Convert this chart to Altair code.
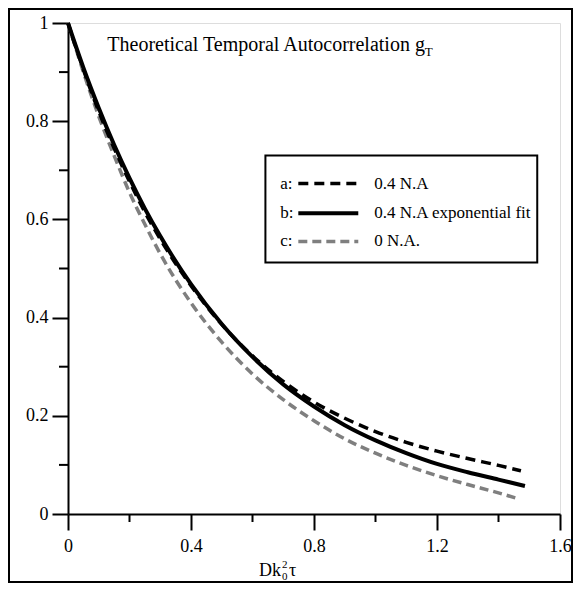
import altair as alt
import pandas as pd

FONT = "Liberation Serif"

# ---- data ----
x_a = [0, 0.05, 0.1, 0.15, 0.2, 0.25, 0.3, 0.4, 0.5, 0.6, 0.7, 0.8, 0.9, 1.0, 1.1, 1.2, 1.3, 1.4, 1.473]
y_a = [1, 0.905, 0.82, 0.745, 0.677, 0.615, 0.56, 0.465, 0.386, 0.322, 0.27, 0.228, 0.195, 0.168, 0.146, 0.128, 0.113, 0.099, 0.088]
x_b = [0, 0.05, 0.1, 0.15, 0.2, 0.25, 0.3, 0.4, 0.5, 0.6, 0.7, 0.8, 0.9, 1.0, 1.1, 1.2, 1.3, 1.4, 1.486]
y_b = [1, 0.909, 0.827, 0.752, 0.684, 0.622, 0.566, 0.468, 0.387, 0.320, 0.264, 0.219, 0.181, 0.150, 0.124, 0.102, 0.085, 0.070, 0.057]
x_c = [0, 0.05, 0.1, 0.15, 0.2, 0.25, 0.3, 0.4, 0.5, 0.6, 0.7, 0.8, 0.9, 1.0, 1.1, 1.2, 1.3, 1.4, 1.464]
y_c = [1, 0.90, 0.81, 0.73, 0.655, 0.59, 0.53, 0.43, 0.35, 0.285, 0.233, 0.19, 0.153, 0.124, 0.099, 0.078, 0.060, 0.043, 0.031]

x_major = [0, 0.4, 0.8, 1.2, 1.6]
x_minor = [0.2, 0.6, 1.0, 1.4]
y_major = [0, 0.2, 0.4, 0.6, 0.8, 1]
y_minor = [0.1, 0.3, 0.5, 0.7, 0.9]

legend_keys = ["a:", "b:", "c:"]
legend_labels = ["0.4 N.A", "0.4 N.A exponential fit", "0 N.A."]
legend_rows_y = [0.673, 0.6125, 0.555]

title_text = "Theoretical Temporal Autocorrelation g"
title_sub = "T"

W, H = 492, 491

x_scale = alt.Scale(domain=[0, 1.6], nice=False, zero=False)
y_scale = alt.Scale(domain=[0, 1], nice=False, zero=False)

axis_common = dict(
    format="~g", tickWidth=2, tickColor="black", domainWidth=2, domainColor="black",
    labelFont=FONT, labelFontSize=18, labelColor="black", grid=False, title=None,
    labelFlush=False, labelOverlap=False, tickSize=16,
)
x_axis = alt.Axis(values=x_major, labelPadding=7, **axis_common)
y_axis = alt.Axis(values=y_major, labelPadding=4, **axis_common)


def X(field):
    return alt.X(f"{field}:Q", scale=x_scale, axis=x_axis)


def Y(field):
    return alt.Y(f"{field}:Q", scale=y_scale, axis=y_axis)


df_a = pd.DataFrame({"x": x_a, "y": y_a})
df_b = pd.DataFrame({"x": x_b, "y": y_b})
df_c = pd.DataFrame({"x": x_c, "y": y_c})

line_c = alt.Chart(df_c).mark_line(color="#7f7f7f", strokeWidth=3.5, strokeDash=[9, 5],
                                   interpolate="monotone").encode(x=X("x"), y=Y("y"))
line_a = alt.Chart(df_a).mark_line(color="black", strokeWidth=3.5, strokeDash=[10, 6],
                                   interpolate="monotone").encode(x=X("x"), y=Y("y"))
line_b = alt.Chart(df_b).mark_line(color="black", strokeWidth=4,
                                   interpolate="monotone").encode(x=X("x"), y=Y("y"))

# minor ticks
xminor = alt.Chart(pd.DataFrame({"v": x_minor})).mark_rule(color="black", strokeWidth=2).encode(
    x=X("v"), y=alt.value(H), y2=alt.value(H + 8))
yminor = alt.Chart(pd.DataFrame({"v": y_minor})).mark_rule(color="black", strokeWidth=2).encode(
    y=Y("v"), x=alt.value(0), x2=alt.value(-9))

# title inside plot
title_df = pd.DataFrame({"x": [0.128], "y": [0.955], "t": [title_text]})
title = alt.Chart(title_df).mark_text(font=FONT, fontSize=20, align="left", baseline="middle",
                                      color="black").encode(x=X("x"), y=Y("y"), text="t:N")
title_s = alt.Chart(pd.DataFrame({"x": [1.16], "y": [0.955], "t": [title_sub]})).mark_text(
    font=FONT, fontSize=13, align="left", baseline="middle", dy=7, color="black").encode(
    x=X("x"), y=Y("y"), text="t:N")

# legend box
box = alt.Chart(pd.DataFrame({"x": [0.642], "x2": [1.526], "y": [0.730], "y2": [0.512]})).mark_rect(
    fill="white", stroke="black", strokeWidth=2).encode(x=X("x"), x2="x2:Q", y=Y("y"), y2="y2:Q")

keys = alt.Chart(pd.DataFrame({"x": [0.690] * 3, "y": legend_rows_y, "t": legend_keys})).mark_text(
    font=FONT, fontSize=17, align="left", baseline="middle", color="black").encode(
    x=X("x"), y=Y("y"), text="t:N")
labels = alt.Chart(pd.DataFrame({"x": [0.996] * 3, "y": legend_rows_y, "t": legend_labels})).mark_text(
    font=FONT, fontSize=17, align="left", baseline="middle", color="black").encode(
    x=X("x"), y=Y("y"), text="t:N")

def sample(i, color, dash, width):
    d = pd.DataFrame({"x": [0.749], "x2": [0.944], "y": [legend_rows_y[i]]})
    kw = dict(color=color, strokeWidth=width)
    if dash:
        kw["strokeDash"] = dash
    return alt.Chart(d).mark_rule(**kw).encode(x=X("x"), x2="x2:Q", y=Y("y"))

s_a = sample(0, "black", [10, 6], 3.5)
s_b = sample(1, "black", None, 4)
s_c = sample(2, "#7f7f7f", [9, 5], 3.5)

# x axis title Dk0^2 tau
one = pd.DataFrame({"k": [0]})
xt1 = alt.Chart(one).mark_text(text="Dk", font=FONT, fontSize=18, align="right", baseline="alphabetic",
                               color="black").encode(x=alt.value(213), y=alt.value(553))
xt2 = alt.Chart(one).mark_text(text="0", font=FONT, fontSize=11, align="left", baseline="alphabetic",
                               color="black").encode(x=alt.value(214), y=alt.value(557))
xt3 = alt.Chart(one).mark_text(text="2", font=FONT, fontSize=11, align="left", baseline="alphabetic",
                               color="black").encode(x=alt.value(214), y=alt.value(545))
xt4 = alt.Chart(one).mark_text(text="τ", font=FONT, fontSize=18, align="left", baseline="alphabetic",
                               color="black").encode(x=alt.value(221), y=alt.value(553))

# outer frame
frame = alt.Chart(one).mark_rect(fillOpacity=0, stroke="black", strokeWidth=2).encode(
    x=alt.value(-59), x2=alt.value(504), y=alt.value(-14), y2=alt.value(559))

chart = alt.layer(
    line_c, line_a, line_b, xminor, yminor, title, title_s, box, s_a, s_b, s_c, keys, labels,
    xt1, xt2, xt3, xt4, frame,
).properties(
    width=W, height=H,
    autosize=alt.AutoSizeParams(type="none"),
    padding={"left": 60, "top": 15, "right": 13, "bottom": 69},
).configure_view(stroke=None).configure(background="white")

chart.save("out.html", embed_options={"renderer": "svg", "actions": False})
